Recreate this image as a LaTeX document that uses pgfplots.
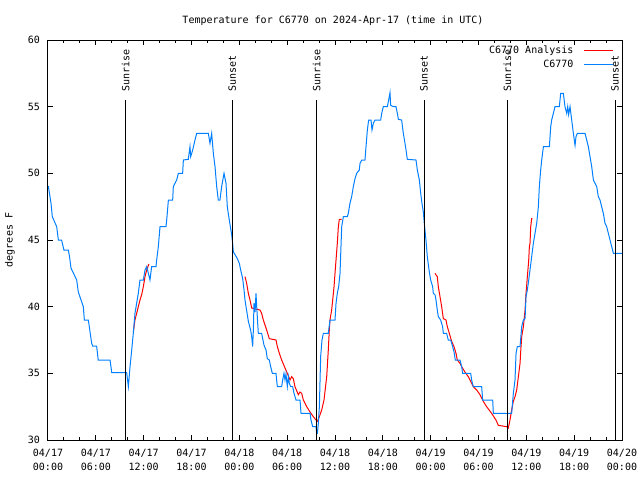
\documentclass[border=0pt]{standalone}
\usepackage{fontspec}
\setmainfont{DejaVu Sans Mono}
\usepackage{pgfplots}
\pgfplotsset{compat=1.18}
\definecolor{cblue}{RGB}{0,128,255}
\definecolor{cred}{RGB}{255,0,0}
\begin{document}
\begin{tikzpicture}[font=\fontsize{7.5pt}{10.5pt}\selectfont]
\useasboundingbox (-36pt,-30pt) rectangle (444pt,330pt);
\begin{axis}[
 at={(0,0)}, anchor=south west,
 scale only axis, width=430.5pt, height=300pt,
 xmin=0, xmax=72, ymin=30, ymax=60,
 xtick={0,6,...,72},
 minor x tick num=2,
 ytick={30,35,...,60},
 tick align=inside,
 major tick length=4pt, minor tick length=2.5pt,
 xticklabels={04/17\\00:00,04/17\\06:00,04/17\\12:00,04/17\\18:00,04/18\\00:00,04/18\\06:00,04/18\\12:00,04/18\\18:00,04/19\\00:00,04/19\\06:00,04/19\\12:00,04/19\\18:00,04/20\\00:00},
 xticklabel style={align=center, yshift=-3.5pt, font=\fontsize{7.5pt}{10.5pt}\selectfont},
 yticklabel style={xshift=-2.5pt, font=\fontsize{7.5pt}{10.5pt}\selectfont},
 /pgf/number format/assume math mode=true,
 axis line style={line width=0.75pt},
 every tick/.style={black, line width=0.75pt},
 legend style={draw=none, fill=none, at={(1,1)}, anchor=north east, xshift=-6pt, yshift=-2pt, inner sep=0pt, row sep=-0.5pt, column sep=5.5pt, font=\fontsize{7.5pt}{10.5pt}\selectfont},
 legend plot pos=right,
 legend cell align=right,
 legend image code/.code={\draw[#1] (0pt,0pt) -- (22pt,0pt);},
 unbounded coords=jump,
]
\addplot[cred, line width=0.75pt] coordinates {
(10.7,38.1) (10.91,39.0) (11.12,39.5) (11.33,40.0) (11.54,40.5) (11.75,40.9) (11.96,41.5) (12.17,42.25) (12.38,42.75) (12.59,43.1) (12.67,43.2)
(12.8,nan)
(24.71,42.25) (24.92,41.75) (25.13,41.0) (25.34,40.5) (25.55,39.9) (26.59,39.75) (26.8,39.5) (27.01,39.0) (27.43,38.25) (27.76,37.6) (28.6,37.5) (28.77,37.0) (29.02,36.5) (29.31,36.0) (29.73,35.4) (30.02,35.0) (30.36,34.5) (30.57,34.75) (30.77,34.6) (30.98,34.0) (31.4,33.4) (31.61,33.6) (31.82,33.5) (32.03,33.0) (32.45,32.5) (32.87,32.1) (33.28,31.75) (33.62,31.5) (33.79,31.4) (34.04,31.75) (34.33,32.25) (34.62,33.0) (34.96,34.75) (35.16,36.75) (35.29,38.3) (35.37,39.0) (35.58,39.75) (35.71,40.5) (35.88,41.5) (36.0,42.5) (36.13,43.5) (36.29,44.75) (36.42,46.0) (36.54,46.55) (36.84,46.55)
(37,nan)
(48.54,42.5) (48.83,42.25) (48.96,41.5) (49.17,40.75) (49.38,40.0) (49.59,39.1) (49.92,39.0) (50.09,38.5) (50.34,38.0) (50.63,37.4) (50.93,37.0) (51.18,36.5) (51.34,36.0) (51.68,35.75) (51.89,35.5) (52.3,35.1) (52.72,34.75) (53.02,34.4) (53.35,34.0) (53.77,33.75) (54.19,33.4) (54.6,32.9) (55.02,32.5) (55.65,32.0) (56.19,31.5) (56.49,31.1) (57.53,31.0) (57.74,30.9) (57.95,31.5) (58.16,32.25) (58.37,32.9) (58.58,33.25) (58.79,33.75) (59.0,34.75) (59.21,35.75) (59.29,36.6) (59.42,37.75) (59.63,38.5) (59.84,39.75) (59.96,41.0) (60.13,42.25) (60.3,43.5) (60.38,44.5) (60.46,44.75) (60.55,46.0) (60.67,46.6) (60.76,46.6)
};
\addlegendentry{C6770 Analysis}
\addplot[cblue, line width=0.75pt] coordinates {
(0.04,49.05) (0.38,47.75) (0.54,46.75) (1.09,46.0) (1.3,45.0) (1.7,45.0) (2.0,44.25) (2.55,44.25) (2.7,43.75) (2.88,42.9) (3.6,42.0) (3.8,41.1) (4.43,40.0) (4.56,39.0) (5.06,39.0) (5.48,37.25) (5.6,37.05) (6.1,37.05) (6.3,36.0) (7.78,36.0) (8.0,35.05) (9.87,35.05)
(10.08,34.0) (10.29,35.5) (10.5,36.75) (10.7,38.0) (10.91,39.5) (11.12,40.25) (11.33,41.0) (11.54,42.0) (11.96,42.0) (12.17,42.75) (12.38,43.0) (12.59,42.5) (12.79,42.0) (13.0,43.0) (13.55,43.0) (13.63,43.5) (13.84,44.5) (14.05,46.0) (14.8,46.0) (14.89,46.5) (15.1,48.0) (15.64,48.0) (15.72,49.0) (16.14,49.5) (16.35,50.0) (16.89,50.0) (16.98,51.0) (17.6,51.05) (17.81,52.0) (17.9,51.25) (18.15,51.75) (18.44,52.5) (18.65,53.0) (20.11,53.0) (20.32,52.25) (20.53,53.0) (20.74,51.5) (20.95,50.5) (21.16,49.0) (21.36,48.0) (21.57,48.0) (21.78,49.0) (22.08,50.0) (22.33,49.25) (22.49,47.5) (22.74,46.5) (23.04,45.4)
(23.16,44.75) (23.25,44.1) (23.46,43.9) (23.75,43.6) (24.0,43.25) (24.17,42.75) (24.42,42.1) (24.59,41.25) (24.71,40.5) (24.84,40.0) (25.0,39.4) (25.13,38.9) (25.26,38.6) (25.42,38.25) (25.55,37.75) (25.67,37.0) (25.76,38.25) (25.84,40.25) (25.97,39.6) (26.09,41.0) (26.18,40.0) (26.38,38.0) (26.8,38.0) (26.93,37.6) (27.1,37.1) (27.35,36.75) (27.51,36.1) (27.76,36.0) (27.93,35.5) (28.14,35.0) (28.6,35.0) (28.68,34.5) (28.77,34.0) (29.31,34.0) (29.44,34.5) (29.6,35.0) (29.73,34.5) (29.85,34.95) (30.02,34.0) (30.15,34.75) (30.27,34.25) (30.44,34.0) (30.69,34.0) (30.86,33.5) (31.11,33.0) (31.61,33.0) (31.74,32.0) (32.87,32.0) (32.99,31.5) (33.2,31.0) (33.62,31.0) (33.7,30.5) (33.79,30.5) (33.91,31.25) (34.04,32.5) (34.2,36.25) (34.37,37.5) (34.54,38.0) (35.16,38.0)
(35.37,39.0) (36.0,39.0) (36.13,40.25) (36.29,41.0) (36.46,41.5) (36.63,42.5) (36.84,46.0) (37.05,46.75) (37.55,46.75) (37.67,47.0) (37.88,47.75) (38.09,48.25) (38.3,49.0) (38.51,49.6) (38.72,50.0) (39.05,50.25) (39.14,50.75) (39.35,51.0) (39.76,51.0) (39.89,52.0) (40.06,53.25) (40.22,54.0) (40.52,54.0) (40.64,53.25) (40.81,53.75) (41.02,54.0) (41.73,54.0) (41.86,54.5) (42.06,55.0) (42.57,55.0) (42.73,55.5) (42.9,56.05) (42.98,55.1) (43.32,55.0) (43.65,55.0) (43.82,54.5) (43.95,54.05) (44.36,54.0) (44.57,53.0) (44.78,52.25) (44.91,51.75) (45.07,51.05) (46.16,51.0) (46.33,50.25) (46.58,49.5) (46.75,48.5) (46.91,47.75) (47.08,47.1)
(47.2,46.25) (47.41,45.0) (47.58,43.75) (47.83,42.6) (48.0,42.0) (48.25,41.5) (48.33,41.0) (48.54,40.9) (48.67,40.5) (48.83,39.75) (48.96,39.25) (49.25,39.0) (49.5,38.5) (49.59,38.0) (50.0,38.0) (50.21,37.5) (50.51,37.5) (50.76,37.0) (50.93,36.6) (51.09,36.0) (51.68,36.0) (51.89,35.5) (52.01,35.0) (53.02,35.0) (53.14,34.5) (53.35,34.0) (54.4,34.0) (54.52,33.0) (55.78,33.0) (55.86,32.0) (58.16,32.0)
(58.37,33.5) (58.58,34.5) (58.71,36.5) (58.87,37.0) (59.21,37.0) (59.42,38.5) (59.63,39.0) (59.84,39.1) (59.96,40.75) (60.13,41.25) (60.3,42.0) (60.46,42.75) (60.67,43.75) (60.88,44.75) (61.09,45.5) (61.3,46.25) (61.51,47.5) (61.63,49.0) (61.8,50.25) (61.93,51.0) (62.14,52.0) (62.89,52.0) (63.06,53.5) (63.18,54.0) (63.39,54.5) (63.6,55.0) (64.14,55.0) (64.31,56.0) (64.64,56.0) (64.85,55.0) (65.06,54.5) (65.19,55.0) (65.31,54.4) (65.48,55.0) (65.69,54.0) (65.9,53.0) (66.11,52.1) (66.23,52.75) (66.4,53.0) (67.36,53.0) (67.57,52.5) (67.78,52.0) (67.99,51.25) (68.2,50.5) (68.41,49.5) (68.83,49.0) (69.03,48.25) (69.24,48.0) (69.45,47.5) (69.66,47.0) (69.87,46.25) (70.08,46.0) (70.29,45.5) (70.5,45.0) (70.71,44.5) (70.92,44.0) (72.0,44.0)
};
\addlegendentry{C6770}
\addplot[black, line width=0.75pt, forget plot] coordinates {(9.74,30) (9.74,55.5)};
\addplot[black, line width=0.75pt, forget plot] coordinates {(23.12,30) (23.12,55.5)};
\addplot[black, line width=0.75pt, forget plot] coordinates {(33.7,30) (33.7,55.5)};
\addplot[black, line width=0.75pt, forget plot] coordinates {(47.17,30) (47.17,55.5)};
\addplot[black, line width=0.75pt, forget plot] coordinates {(57.62,30) (57.62,55.5)};
\addplot[black, line width=0.75pt, forget plot] coordinates {(71.13,30) (71.13,55.5)};
\node[rotate=90, anchor=west, inner sep=0pt] at (axis cs:9.74,56.1) {Sunrise};
\node[rotate=90, anchor=west, inner sep=0pt] at (axis cs:23.12,56.1) {Sunset};
\node[rotate=90, anchor=west, inner sep=0pt] at (axis cs:33.7,56.1) {Sunrise};
\node[rotate=90, anchor=west, inner sep=0pt] at (axis cs:47.17,56.1) {Sunset};
\node[rotate=90, anchor=west, inner sep=0pt] at (axis cs:57.62,56.1) {Sunrise};
\node[rotate=90, anchor=west, inner sep=0pt] at (axis cs:71.13,56.1) {Sunset};
\end{axis}
\node at (213.75pt,314.25pt) {Temperature for C6770 on 2024-Apr-17 (time in UTC)};
\node[rotate=90] at (-28.5pt,150pt) {degrees F};
\end{tikzpicture}
\end{document}
